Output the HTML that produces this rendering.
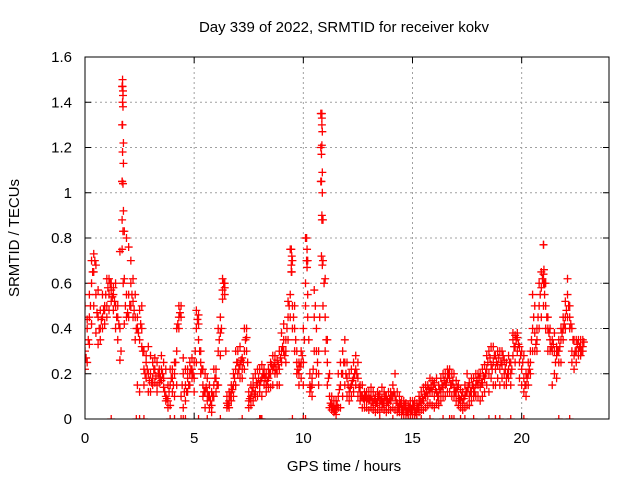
<!DOCTYPE html>
<html><head><meta charset="utf-8">
<style>
html,body{margin:0;padding:0;background:#fff;}
svg{display:block;font-family:"Liberation Sans",sans-serif;}
</style></head>
<body>
<svg id="chart" width="640" height="480" viewBox="0 0 640 480" xmlns="http://www.w3.org/2000/svg">
<text x="344" y="32" font-size="15" text-anchor="middle" fill="#000">Day 339 of 2022, SRMTID for receiver kokv</text>
<text x="344" y="471" font-size="15" text-anchor="middle" fill="#000">GPS time / hours</text>
<text x="0" y="0" font-size="15" text-anchor="middle" fill="#000" transform="translate(19,238) rotate(-90)">SRMTID / TECUs</text>
<g id="grid"></g>
<g id="ticks"></g>
<g id="marks" clip-path="url(#clip)"></g>
<defs><clipPath id="clip"><rect x="85" y="57" width="524" height="362"/></clipPath></defs>
<rect x="85" y="57" width="524" height="362" fill="none" stroke="#000" stroke-width="1"/>
</svg>
<script>
const xTicks = [0, 5, 10, 15, 20];
const yTicks = [0, 0.2, 0.4, 0.6, 0.8, 1, 1.2, 1.4, 1.6];
const yTickLabels = ["0", "0.2", "0.4", "0.6", "0.8", "1", "1.2", "1.4", "1.6"];
const srmtidA = [
.30,.40,.45,.60,.65,.55,.45,.40,.45,.50,
.50,.55,.57,.55,.50,.45,.40,1.30,.62,.55,
.55,.60,.52,.45,.40,.35,.40,.22,.25,.20,
.20,.18,.22,.15,.20,.22,.18,.10,.08,.15,
.18,.20,.30,.45,.45,.20,.15,.18,.20,.22,
.18,.40,.42,.25,.15,.12,.12,.10,.06,.15,
.18,.30,.38,.57,.58,.07,.08,.12,.15,.22,
.25,.24,.22,.30,.36,.08,.10,.14,.12,.15,
.15,.18,.20,.15,.18,.20,.22,.25,.20,.22,
.30,.35,.30,.45,.55,.50,.40,.25,.20,.25,
.25,.60,.55,.15,.15,.45,.30,.20,1.20,.70,
.45,.25,.10,.06,.05,.04,.10,.15,.20,.25,
.18,.12,.15,.18,.22,.18,.12,.10,.08,.08,
.08,.10,.07,.06,.08,.07,.09,.08,.06,.07,
.08,.10,.10,.07,.06,.05,.05,.04,.04,.05,
.04,.05,.04,.06,.07,.08,.10,.10,.12,.12,
.10,.12,.10,.12,.14,.15,.18,.18,.15,.14,
.12,.10,.08,.07,.10,.12,.10,.12,.14,.15,
.15,.14,.16,.18,.22,.20,.24,.25,.22,.24,
.22,.24,.20,.18,.22,.20,.35,.32,.36,.25,
.22,.18,.15,.20,.25,.40,.38,.35,.50,.58,
.60,.50,.40,.35,.30,.30,.28,.30,.35,.40,
.45,.55,.45,.30,.28,.30,.30,.32,.32];
const srmtidB = [
.50,.44,.55,.70,.73,.68,.57,.48,.55,.48,
.62,.62,.60,.58,.60,.50,.74,1.47,.83,.80,
.76,.70,.62,.55,.45,.48,.50,.30,.28,.32,
.28,.25,.27,.25,.22,.28,.25,.22,.15,.22,
.22,.25,.40,.50,.50,.27,.22,.22,.25,.27,
.25,.48,.46,.30,.22,.20,.18,.15,.12,.22,
.22,.40,.45,.62,.60,.10,.12,.15,.20,.30,
.30,.32,.27,.40,.40,.12,.15,.18,.20,.22,
.22,.24,.22,.20,.22,.25,.28,.28,.26,.30,
.38,.42,.35,.52,.75,.70,.50,.30,.25,.30,
.40,.80,.70,.20,.18,.57,.40,.30,1.35,.88,
.62,.35,.20,.10,.08,.08,.20,.25,.30,.35,
.25,.20,.22,.25,.28,.25,.15,.15,.12,.12,
.12,.14,.12,.10,.12,.11,.14,.12,.10,.12,
.12,.15,.20,.12,.10,.08,.08,.07,.06,.08,
.08,.08,.07,.10,.12,.14,.15,.15,.18,.17,
.16,.18,.15,.18,.20,.20,.22,.22,.20,.20,
.17,.15,.13,.12,.15,.20,.16,.18,.18,.20,
.20,.20,.22,.24,.28,.30,.32,.32,.28,.30,
.30,.30,.26,.25,.28,.25,.38,.37,.38,.32,
.30,.28,.20,.25,.30,.55,.50,.40,.60,.65,
.77,.60,.45,.40,.35,.38,.32,.35,.40,.45,
.52,.62,.50,.40,.35,.35,.35,.35,.35];
const srmtidC = [
.22,.25,.33,.42,.50,.38,.33,.35,.40,.42,
.45,.48,.52,.48,.40,.35,.26,1.05,.42,.45,
.45,.50,.45,.35,.15,.12,.32,.15,.18,.12,
.12,.15,.16,.12,.16,.17,.14,.08,.05,.06,
.12,.10,.15,.40,.10,.05,.08,.12,.15,.18,
.12,.25,.35,.20,.10,.05,.08,.05,.03,.10,
.12,.15,.28,.53,.55,.05,.05,.08,.10,.15,
.20,.18,.18,.22,.30,.05,.06,.08,.10,.10,
.12,.10,.15,.12,.14,.14,.15,.20,.15,.15,
.25,.30,.25,.35,.45,.40,.30,.20,.15,.18,
.15,.50,.45,.12,.10,.30,.20,.15,1.05,.50,
.30,.15,.05,.04,.03,.02,.05,.05,.10,.15,
.10,.08,.10,.12,.15,.10,.08,.05,.05,.05,
.04,.05,.04,.03,.04,.03,.05,.04,.03,.04,
.04,.05,.04,.03,.03,.02,.02,.02,.02,.02,
.02,.02,.02,.03,.04,.04,.05,.06,.07,.06,
.05,.07,.06,.08,.10,.10,.12,.12,.10,.10,
.08,.06,.05,.04,.05,.06,.06,.08,.10,.10,
.10,.08,.10,.12,.15,.12,.18,.15,.15,.18,
.15,.18,.15,.15,.18,.15,.28,.25,.30,.18,
.15,.12,.10,.15,.20,.30,.30,.30,.40,.45,
.50,.40,.30,.30,.15,.20,.18,.25,.25,.35,
.40,.45,.40,.25,.22,.25,.28,.28,.30];
const srmtidD = [
.27,.35,.50,.65,.70,.47,.40,.44,.48,.55,
.58,.60,.54,.52,.45,.42,.30,.60,.50,.47,
.50,.55,.48,.40,.38,.42,.30,.20,.22,.17,
.16,.22,.19,.20,.18,.20,.12,.09,.12,.18,
.15,.25,.42,.47,.15,.12,.12,.15,.22,.20,
.30,.44,.30,.22,.12,.14,.10,.08,.10,.18,
.15,.35,.40,.60,.30,.06,.10,.13,.18,.25,
.22,.26,.25,.35,.25,.09,.12,.11,.16,.18,
.17,.20,.18,.17,.20,.24,.23,.22,.24,.27,
.32,.28,.40,.50,.65,.45,.35,.22,.23,.28,
.35,.70,.35,.14,.22,.50,.25,.45,.90,.60,
.35,.18,.07,.05,.04,.06,.13,.20,.25,.20,
.15,.14,.17,.20,.20,.14,.10,.09,.10,.09,
.09,.08,.09,.07,.10,.08,.07,.10,.08,.09,
.10,.12,.08,.05,.07,.04,.06,.03,.05,.04,
.06,.03,.05,.08,.09,.11,.12,.13,.14,.15,
.13,.10,.13,.15,.17,.16,.20,.15,.17,.12,
.14,.09,.10,.09,.12,.14,.12,.15,.12,.17,
.18,.16,.19,.20,.25,.27,.22,.28,.25,.27,
.25,.28,.22,.20,.25,.22,.32,.35,.33,.28,
.25,.15,.18,.22,.35,.45,.33,.45,.55,.62,
.55,.45,.38,.32,.33,.25,.30,.32,.38,.42,
.48,.50,.42,.35,.30,.33,.32,.30,.34];
const spikeHours = [1.72,1.72,1.74,1.74,1.72,1.74,1.72,1.76,1.72,1.76,1.7,1.74,1.76,1.7,1.74,1.7, 10.85,10.85,10.85,10.87,10.85,10.83,10.87,10.83,10.87,10.85,10.83,10.87, 10.15,10.17,10.15,10.17, 9.45,9.47,9.45,9.47, 21.0,21.02,21.0,21.05];
const spikeValues = [1.5,1.47,1.45,1.43,1.4,1.38,1.3,1.22,1.18,1.13,1.05,1.04,0.92,0.88,0.83,0.75, 1.35,1.33,1.3,1.27,1.21,1.17,1.09,1.05,1.0,0.88,0.72,0.68, 0.8,0.75,0.7,0.67, 0.75,0.72,0.68,0.65, 0.77,0.66,0.64,0.6];
const zeroHours = [1.2,2.35,2.5,2.7,3.9,4.1,4.4,4.5,4.6,5.2,5.6,6.2,7.2,8.0,8.05,8.1,9.5,10.0,10.1,13.5,14.1,14.8,15.0,15.2,15.4,15.8,16.4,16.7,16.8,16.9,17.2,17.4,17.8,18.5,18.8,19.0,19.5,20.1,21.7,22.2];
const hours = srmtidA.map((_, i) => i * 0.1);
const hoursD = srmtidD.map((_, i) => i * 0.1 + 0.05);

const NS = "http://www.w3.org/2000/svg";
const X0 = 85, X1 = 609, Y0 = 419, Y1 = 57, XMAX = 24, YMAX = 1.6;
function xs(v){ return X0 + v / XMAX * (X1 - X0); }
function ys(v){ return Y0 - v / YMAX * (Y0 - Y1); }
function mk(tag, attrs){ const e = document.createElementNS(NS, tag); for (const k in attrs) e.setAttribute(k, attrs[k]); return e; }
const grid = document.getElementById('grid'), ticks = document.getElementById('ticks'), marks = document.getElementById('marks');

xTicks.forEach(t => {
  const x = xs(t);
  if (t > 0) {
    const g = mk('line', {x1:x, x2:x, y1:Y1, y2:Y0, stroke:'#a0a0a0', 'stroke-dasharray':'2,3', 'stroke-width':1});
    
    
    grid.appendChild(g);
  }
  ticks.appendChild(mk('line', {x1:x, x2:x, y1:Y0, y2:Y0-6, stroke:'#000'}));
  ticks.appendChild(mk('line', {x1:x, x2:x, y1:Y1, y2:Y1+6, stroke:'#000'}));
  const tx = mk('text', {x:x, y:443, 'font-size':15, 'text-anchor':'middle', fill:'#000'});
  
  
  tx.textContent = String(t);
  ticks.appendChild(tx);
});
yTicks.forEach((t, i) => {
  const y = ys(t);
  if (t > 0 && t < YMAX) {
    const g = mk('line', {x1:X0, x2:X1, y1:y, y2:y, stroke:'#a0a0a0', 'stroke-dasharray':'2,3', 'stroke-width':1});
    
    
    grid.appendChild(g);
  }
  ticks.appendChild(mk('line', {x1:X0, x2:X0+6, y1:y, y2:y, stroke:'#000'}));
  ticks.appendChild(mk('line', {x1:X1, x2:X1-6, y1:y, y2:y, stroke:'#000'}));
  const tx = mk('text', {x:72, y:y+5, 'font-size':15, 'text-anchor':'end', fill:'#000'});
  
  
  tx.textContent = yTickLabels[i];
  ticks.appendChild(tx);
});

function plus(h, v, name){
  const x = xs(h), y = ys(v);
  const p = mk('path', {d:`M${x-4} ${y}H${x+4}M${x} ${y-4}V${y+4}`, stroke:'#ff0000', 'stroke-width':1.3, fill:'none'});
  
  
  marks.appendChild(p);
}
[srmtidA, srmtidB, srmtidC].forEach(series => {
  series.forEach((v, i) => plus(hours[i], v, 'srmtid-point'));
});
srmtidD.forEach((v, i) => plus(hoursD[i], v, 'srmtid-point'));
spikeValues.forEach((v, i) => plus(spikeHours[i], v, 'srmtid-point'));
zeroHours.forEach(h => plus(h, 0, 'zero-marker'));
</script>
</body></html>
